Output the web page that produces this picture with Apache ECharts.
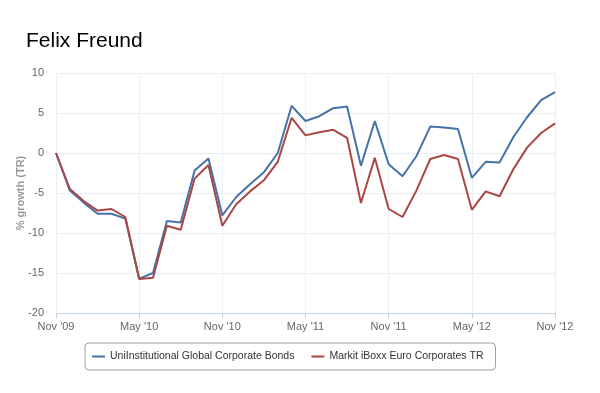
<!DOCTYPE html>
<html><head><meta charset="utf-8">
<script src="https://cdn.jsdelivr.net/npm/echarts@6/dist/echarts.min.js"></script>
<style>html,body{margin:0;padding:0;background:#fff}#c{width:600px;height:393px}</style>
</head><body><div id="c"></div>
<script>
const categories = ["Nov '09","Dec '09","Jan '10","Feb '10","Mar '10","Apr '10","May '10","Jun '10","Jul '10","Aug '10","Sep '10","Oct '10","Nov '10","Dec '10","Jan '11","Feb '11","Mar '11","Apr '11","May '11","Jun '11","Jul '11","Aug '11","Sep '11","Oct '11","Nov '11","Dec '11","Jan '12","Feb '12","Mar '12","Apr '12","May '12","Jun '12","Jul '12","Aug '12","Sep '12","Oct '12","Nov '12"];
const seriesNames = ["UniInstitutional Global Corporate Bonds","Markit iBoxx Euro Corporates TR"];
const uniValues = [0,-4.7,-6.2,-7.6,-7.6,-8.2,-15.7,-15.0,-8.5,-8.7,-2.2,-0.7,-7.8,-5.5,-3.9,-2.4,0.0,5.9,4.0,4.6,5.6,5.8,-1.6,4.0,-1.4,-2.9,-0.4,3.3,3.2,3.0,-3.1,-1.1,-1.2,2.0,4.5,6.6,7.6];
const iboxxValues = [0,-4.5,-6.0,-7.2,-7.0,-8.0,-15.75,-15.6,-9.1,-9.6,-3.2,-1.5,-9.1,-6.4,-4.8,-3.4,-1.1,4.4,2.2,2.6,2.9,1.9,-6.25,-0.6,-7.0,-8.0,-4.7,-0.75,-0.25,-0.75,-7.1,-4.8,-5.4,-2.0,0.7,2.5,3.7];
const yTicks = [-20,-15,-10,-5,0,5,10];
const colors = ["#4572a7","#aa4643"];

const chart = echarts.init(document.getElementById('c'), null, {renderer:'canvas'});
chart.setOption({
  animation:false,
  backgroundColor:'#fff',
  title:{text:'Felix Freund', left:21, top:26,
    textStyle:{fontFamily:'Liberation Sans, Arial', fontSize:21, fontWeight:'normal', color:'#000'}},
  grid:{left:56, right:45, top:73, bottom:80, containLabel:false, outerBoundsMode:'none'},
  legend:{
    top:343, left:85,
    itemWidth:13, itemHeight:2, itemGap:17,
    icon:'rect',
    borderColor:'#a0a0a0', borderWidth:1, borderRadius:4,
    padding:[8,12,8,7],
    textStyle:{fontFamily:'Liberation Sans, Arial', fontSize:10.5, color:'#333'},
    data:seriesNames
  },
  xAxis:{
    type:'category', data:categories, boundaryGap:false,
    axisLine:{onZero:false, lineStyle:{color:'#c0d0e0'}},
    axisTick:{show:true, interval:5, length:5, lineStyle:{color:'#c0d0e0'}},
    axisLabel:{interval:5, color:'#666', fontFamily:'Liberation Sans, Arial', fontSize:11, margin:8},
    splitLine:{show:true, interval:5, lineStyle:{color:'#eceff3'}}
  },
  yAxis:{
    type:'value', min:yTicks[0], max:yTicks[yTicks.length-1], interval:5,
    name:'% growth (TR)', nameLocation:'middle', nameGap:30, nameRotate:90, nameMoveOverlap:false,
    nameTextStyle:{color:'#999', fontFamily:'Liberation Sans, Arial', fontSize:11, fontWeight:'bold'},
    axisLine:{show:false}, axisTick:{show:false},
    axisLabel:{color:'#666', fontFamily:'Liberation Sans, Arial', fontSize:11, margin:12},
    splitLine:{lineStyle:{color:'#eaeef2'}}
  },
  series:[
    {name:seriesNames[0], type:'line', data:uniValues, showSymbol:false, symbol:'none',
     lineStyle:{width:2, color:colors[0]}, itemStyle:{color:colors[0]}},
    {name:seriesNames[1], type:'line', data:iboxxValues, showSymbol:false, symbol:'none',
     lineStyle:{width:2, color:colors[1]}, itemStyle:{color:colors[1]}}
  ]
});
</script></body></html>
